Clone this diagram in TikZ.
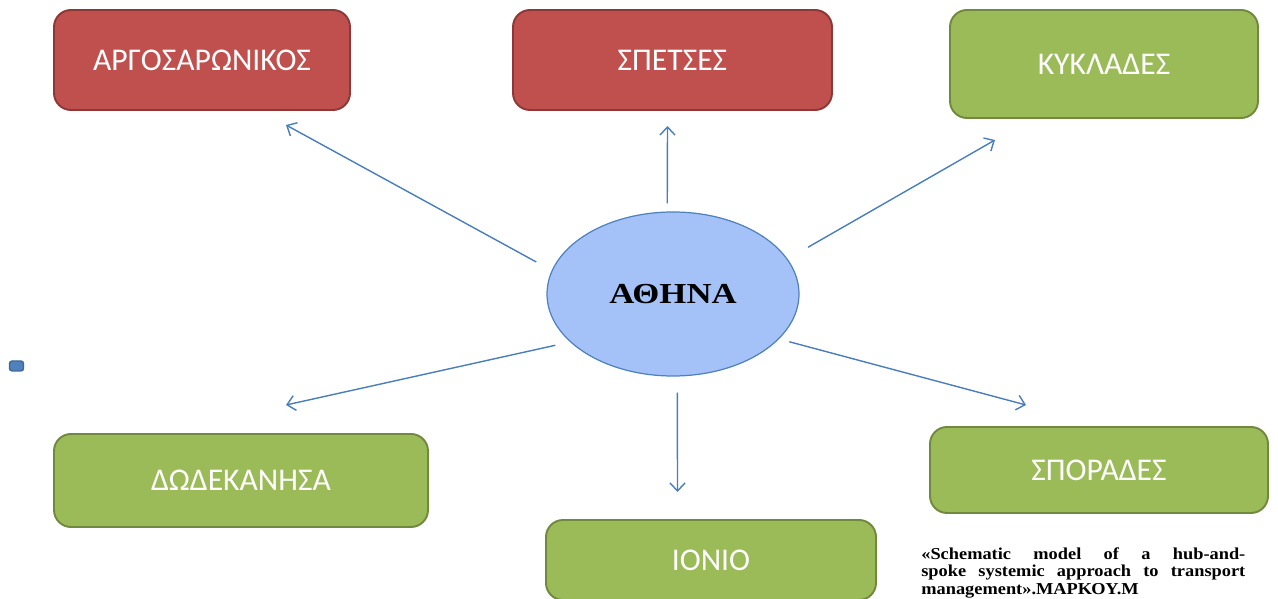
\documentclass[tikz,border=0pt]{standalone}
\usepackage{fontspec}
\setmainfont{Liberation Serif}
\newfontfamily\boxfont{Carlito}
\newfontfamily\widefont[FakeStretch=1.2]{Liberation Serif}
\newfontfamily\capfont[FakeStretch=1.1]{Liberation Serif}
\usetikzlibrary{arrows.meta,shapes.geometric}
\definecolor{redfill}{RGB}{192,80,77}
\definecolor{redline}{RGB}{140,56,54}
\definecolor{greenfill}{RGB}{155,187,89}
\definecolor{greenline}{RGB}{113,137,63}
\definecolor{hubfill}{RGB}{164,194,248}
\definecolor{hubline}{RGB}{79,129,189}
\definecolor{spokecol}{RGB}{74,126,187}
\begin{document}
\begin{tikzpicture}[
    font=\boxfont\fontsize{18}{21}\selectfont
]
	\tikzset{
	    redbox/.style = {rectangle, rounded corners=0.34cm, draw=redline, line width=1.1pt, fill=redfill, text=white, align=center},
	    greenbox/.style = {rectangle, rounded corners=0.34cm, draw=greenline, line width=1.1pt, fill=greenfill, text=white, align=center},
	    hubnode/.style = {ellipse, draw=hubline, line width=0.7pt, fill=hubfill, minimum width=5.04cm, minimum height=3.28cm, inner sep=0pt},
	    spoke/.style = {-{Straight Barb[length=1.6mm,width=3mm]}, draw=spokecol, line width=0.8pt}
	}
	\useasboundingbox (0,0) rectangle (25.56,11.98);
	\clip (0,0) rectangle (25.56,11.98);
	% outer boxes
	\node[redbox, minimum width=5.92cm, minimum height=2.0cm] at (4.04,10.78) (argo) {ΑΡΓΟΣΑΡΩΝΙΚΟΣ};
	\node[redbox, minimum width=6.38cm, minimum height=2.0cm] at (13.45,10.78) (spetses) {ΣΠΕΤΣΕΣ};
	\node[greenbox, minimum width=6.16cm, minimum height=2.16cm] at (22.08,10.70) (kyklades) {ΚΥΚΛΑΔΕΣ};
	\node[greenbox, minimum width=7.48cm, minimum height=1.86cm] at (4.82,2.37) (dodek) {ΔΩΔΕΚΑΝΗΣΑ};
	\node[greenbox, minimum width=6.76cm, minimum height=1.72cm] at (21.98,2.58) (sporades) {ΣΠΟΡΑΔΕΣ};
	\node[greenbox, minimum width=6.6cm, minimum height=1.6cm] at (14.22,0.78) (ionio) {ΙΟΝΙΟ};
	% hub
	\node[hubnode] at (13.46,6.10) (athina) {\widefont\bfseries\fontsize{16.5}{18}\selectfont ΑΘΗΝΑ};
	% small marker
	\node[rectangle, rounded corners=1.5pt, draw=hubline!80!black, line width=0.8pt, fill=hubline, minimum width=0.28cm, minimum height=0.2cm, inner sep=0pt] at (0.33,4.66) (marker) {};
	% arrow tips
	\coordinate (tipargo) at (5.72,9.48);
	\coordinate (tipspetses) at (13.35,9.46);
	\coordinate (tipkyklades) at (19.90,9.18);
	\coordinate (tipdodek) at (5.72,3.88);
	\coordinate (tipionio) at (13.55,2.14);
	\coordinate (tipsporades) at (20.52,3.88);
	\draw[spoke, shorten <=0.35cm] (athina.169) -- (tipargo);
	\draw[spoke, shorten <=0.16cm] (athina.94) -- (tipspetses);
	\draw[spoke, shorten <=0.47cm] (athina.17) -- (tipkyklades);
	\draw[spoke, shorten <=0.30cm] (athina.205) -- (tipdodek);
	\draw[spoke, shorten <=0.32cm] (athina.273) -- (tipionio);
	\draw[spoke, shorten <=0.21cm] (athina.337) -- (tipsporades);
	% caption
	\node[anchor=north west, text width=6.48cm, align=justify, inner sep=0pt,
	      font=\capfont\bfseries\fontsize{9.5}{10}\selectfont] at (18.42,1.04) (caption)
	    {\hyphenpenalty=10000\relax «Schematic model of a hub-and-\linebreak spoke systemic approach to transport\linebreak management».ΜΑΡΚΟΥ.Μ};
\end{tikzpicture}
\end{document}
